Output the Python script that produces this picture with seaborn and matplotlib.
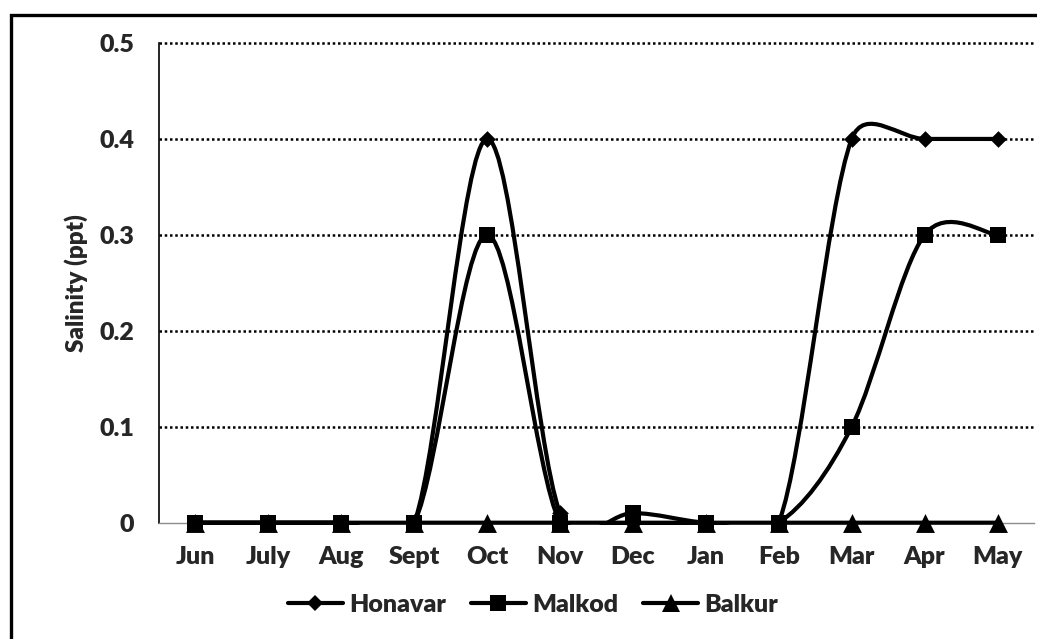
import numpy as np
import pandas as pd
import matplotlib
matplotlib.use("Agg")
import matplotlib.pyplot as plt
from matplotlib.path import Path
from matplotlib.patches import PathPatch, Rectangle
from matplotlib.lines import Line2D
import seaborn as sns

months = ["Jun", "July", "Aug", "Sept", "Oct", "Nov", "Dec", "Jan", "Feb", "Mar", "Apr", "May"]
honavar = [0, 0, 0, 0, 0.4, 0.01, 0, 0, 0, 0.4, 0.4, 0.4]
malkod = [0, 0, 0, 0, 0.3, 0, 0.01, 0, 0, 0.1, 0.3, 0.3]
balkur = [0, 0, 0, 0, 0, 0, 0, 0, 0, 0, 0, 0]
series_names = ["Honavar", "Malkod", "Balkur"]
y_ticks = [0, 0.1, 0.2, 0.3, 0.4, 0.5]
y_labels = ["0", "0.1", "0.2", "0.3", "0.4", "0.5"]

WEIGHT = "heavy"
sns.set_style("white")
plt.rcParams["font.family"] = ["Lato", "DejaVu Sans"]
plt.rcParams["font.weight"] = WEIGHT

W, H = 1037, 639
fig = plt.figure(figsize=(W / 100, H / 100), dpi=100)
ax = fig.add_axes([159 / W, 1 - 522.7 / H, (1034 - 159) / W, (522.7 - 43) / H])
ax.set_xlim(-0.5, 11.5)
ax.set_ylim(0, 0.5)

df = pd.DataFrame({"month": months, "x": np.arange(len(months)),
                   "Honavar": honavar, "Malkod": malkod, "Balkur": balkur})
long = df.melt(id_vars=["month", "x"], value_vars=series_names, var_name="site", value_name="salinity")

markers = {"Honavar": "D", "Malkod": "s", "Balkur": "^"}
msizes = {"Honavar": 72, "Malkod": 120, "Balkur": 185}
lw = 3.0
FS = 18


def excel_smooth_path(xs, ys):
    pts = ax.transData.transform(np.column_stack([xs, ys]))
    n = len(pts)
    verts = [pts[0]]
    codes = [Path.MOVETO]
    f = 1 / 6
    for i in range(n - 1):
        p0 = pts[i - 1] if i > 0 else pts[i]
        p1 = pts[i]
        p2 = pts[i + 1]
        p3 = pts[i + 2] if i + 2 < n else pts[i + 1]
        d02 = np.hypot(*(p2 - p0))
        d12 = np.hypot(*(p2 - p1))
        d13 = np.hypot(*(p3 - p1))
        f1 = f if d02 / 6 < d12 / 2 else d12 / (2 * d02)
        f2 = f if d13 / 6 < d12 / 2 else d12 / (2 * d13)
        c1 = p1 + f1 * (p2 - p0)
        c2 = p2 - f2 * (p3 - p1)
        verts += [c1, c2, p2]
        codes += [Path.CURVE4] * 3
    verts = ax.transData.inverted().transform(np.array(verts))
    return Path(verts, codes)


for name in series_names:
    sub = long[long["site"] == name]
    path = excel_smooth_path(sub["x"].values, sub["salinity"].values)
    patch = PathPatch(path, facecolor="none", edgecolor="black", lw=lw,
                      transform=ax.transData, zorder=3, capstyle="butt", joinstyle="round")
    ax.add_patch(patch)
    if name == "Balkur":
        patch.set_clip_on(False)
    else:
        clip_rect = Rectangle((-0.6, -0.0022), 12.2, 0.6, transform=ax.transData)
        patch.set_clip_path(clip_rect)
    sns.scatterplot(data=sub, x="x", y="salinity", marker=markers[name], s=msizes[name],
                    color="black", edgecolor="black", linewidth=0, ax=ax, zorder=4,
                    clip_on=False, legend=False)

# axes styling
ax.set_xlabel("")
ax.set_ylabel("Salinity (ppt)", fontsize=17.5, fontweight=WEIGHT, labelpad=0)
ax.yaxis.set_label_coords((88 - 159) / (1034 - 159), 0.5)
ax.set_yticks(y_ticks, labels=y_labels)
ax.set_xticks(np.arange(len(months)), labels=months)
ax.set_xticks(np.arange(-0.5, 12, 1), minor=True)
ax.tick_params(axis="x", which="major", length=0, pad=17, labelsize=FS)
ax.tick_params(axis="x", which="minor", length=5, width=1, color="#8c8c8c", direction="out")
ax.tick_params(axis="y", which="major", length=7, width=1.2, color="black", direction="out",
               pad=11, labelsize=FS)
for lab in ax.get_xticklabels() + ax.get_yticklabels():
    lab.set_fontweight(WEIGHT)

for s in ["top", "right"]:
    ax.spines[s].set_visible(False)
ax.spines["left"].set_color("black")
ax.spines["left"].set_linewidth(1.2)
ax.spines["bottom"].set_color("#8c8c8c")
ax.spines["bottom"].set_linewidth(1.0)
ax.spines["left"].set_zorder(2)

for yv in y_ticks[1:]:
    ax.axhline(yv, color="black", lw=1.8, linestyle=(0, (1, 1.1)), zorder=1, clip_on=False)

# legend
handles = [Line2D([0], [0], color="black", lw=lw, marker=markers[n],
                  markersize=np.sqrt(msizes[n]), markeredgewidth=0) for n in series_names]
leg = fig.legend(handles, series_names, loc="center", bbox_to_anchor=(533 / W, 1 - 605 / H),
                 ncol=3, frameon=False, prop={"family": ["Lato"], "weight": WEIGHT, "size": FS},
                 handlelength=2.2, handletextpad=0.25, columnspacing=1.0, borderpad=0)

# outer chart border (extends past right and bottom edges)
fig.patches.append(Rectangle((11 / W, -0.2), 1.3, (1 - 15 / H) + 0.2, transform=fig.transFigure,
                             fill=False, edgecolor="black", lw=2.4, zorder=10))

fig.savefig("out.png", dpi=100)
